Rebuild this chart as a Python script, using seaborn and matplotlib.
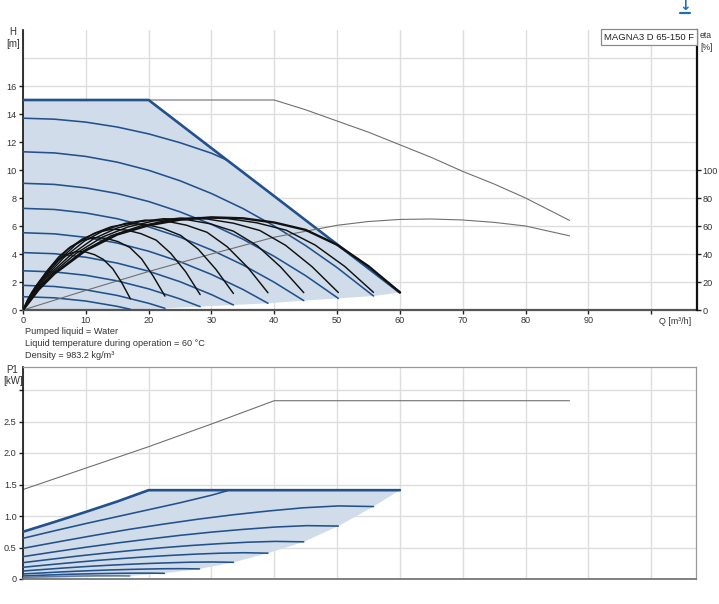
import matplotlib
matplotlib.use("Agg")
import matplotlib.pyplot as plt
import seaborn as sns
from matplotlib.patches import Rectangle
from matplotlib.lines import Line2D

sns.set_theme(style="white")
plt.rcParams["font.family"] = ["Liberation Sans", "DejaVu Sans"]

# ---------------- data ----------------
# QH: max curve (power limited) and constant speed curves
max_q = [0, 20, 30, 40, 50, 60]
max_h = [15, 15, 11.56, 8.13, 4.69, 1.25]

speed_q = [
    [0, 5, 10, 15, 20, 25, 30, 32.5],
    [0, 5, 10, 15, 20, 25, 30, 35, 40, 45, 50, 55.8],
    [0, 5, 10, 15, 20, 25, 30, 35, 40, 45, 50.2],
    [0, 5, 10, 15, 20, 25, 30, 35, 40, 44.7],
    [0, 5, 10, 15, 20, 25, 30, 35, 39],
    [0, 5, 10, 15, 20, 25, 30, 33.5],
    [0, 5, 10, 15, 20, 25, 28.2],
    [0, 5, 10, 15, 20, 22.6],
    [0, 5, 10, 15, 17.1],
]
speed_h = [
    [13.7, 13.63, 13.42, 13.07, 12.58, 11.95, 11.2, 10.7],
    [11.3, 11.22, 10.97, 10.56, 9.98, 9.23, 8.32, 7.25, 6.0, 4.6, 3.03, 1.0],
    [9.05, 8.97, 8.72, 8.32, 7.75, 7.01, 6.12, 5.06, 3.83, 2.45, 0.83],
    [7.26, 7.18, 6.93, 6.52, 5.94, 5.2, 4.29, 3.22, 1.98, 0.67],
    [5.52, 5.44, 5.19, 4.78, 4.2, 3.45, 2.54, 1.47, 0.48],
    [4.1, 4.02, 3.77, 3.35, 2.77, 2.02, 1.1, 0.36],
    [2.8, 2.72, 2.48, 2.08, 1.51, 0.79, 0.24],
    [1.76, 1.68, 1.44, 1.04, 0.48, 0.12],
    [0.95, 0.87, 0.64, 0.26, 0.05],
]

# lower limit of the operating range (QH)
low_q = [0, 17.1, 22.6, 28.2, 33.5, 39, 44.7, 50.2, 55.8, 60]
low_h = [0, 0.05, 0.12, 0.24, 0.36, 0.48, 0.67, 0.83, 1.0, 1.25]

# thin grey curves (larger pump reference)
ref_q = [0, 40, 45, 50, 55, 60, 65, 70, 75, 80, 87]
ref_h = [15, 15, 14.3, 13.5, 12.7, 11.8, 10.9, 9.9, 9.0, 8.0, 6.4]
ref_eta_q = [0, 10, 20, 30, 40, 50, 55, 60, 65, 70, 75, 80, 87]
ref_eta = [0, 14, 27.5, 40, 52, 60.5, 63.2, 64.7, 65, 64.3, 62.6, 60, 53]

# efficiency curves [%]
eta_q = [
    [0, 0.7, 1.4, 2.9, 4.3, 5.7, 7.1, 8.6, 10.0, 11.4, 12.8, 14.3, 15.7, 17.1],
    [0, 0.9, 1.9, 3.8, 5.7, 7.5, 9.4, 11.3, 13.2, 15.1, 17.0, 18.9, 20.7, 22.6],
    [0, 1.2, 2.4, 4.7, 7.1, 9.4, 11.8, 14.1, 16.5, 18.8, 21.2, 23.5, 25.9, 28.2],
    [0, 1.4, 2.8, 5.6, 8.4, 11.2, 14.0, 16.8, 19.5, 22.3, 25.1, 27.9, 30.7, 33.5],
    [0, 1.6, 3.3, 6.5, 9.8, 13.0, 16.3, 19.5, 22.8, 26.0, 29.3, 32.5, 35.8, 39.0],
    [0, 1.9, 3.7, 7.5, 11.2, 14.9, 18.6, 22.4, 26.1, 29.8, 33.5, 37.3, 41.0, 44.7],
    [0, 2.1, 4.2, 8.4, 12.6, 16.7, 20.9, 25.1, 29.3, 33.5, 37.7, 41.8, 46.0, 50.2],
    [0, 2.3, 4.7, 9.3, 14.0, 18.6, 23.3, 27.9, 32.6, 37.2, 41.9, 46.5, 51.2, 55.8],
    [0, 2.5, 5, 10, 15, 20, 25, 30, 35, 40, 45, 50, 55, 60],
]
eta_v = [
    [0, 6.7, 12.6, 21.8, 30.2, 36.1, 39.9, 41.8, 41.4, 39.5, 36.1, 29.4, 19.7, 8.0],
    [0, 8.7, 16.2, 27.8, 38.0, 45.0, 49.6, 51.7, 51.2, 48.9, 44.7, 36.4, 24.4, 9.9],
    [0, 10.2, 18.7, 31.9, 43.1, 50.6, 55.4, 57.7, 57.1, 54.5, 49.9, 40.6, 27.3, 11.0],
    [0, 11.3, 20.7, 35.0, 46.7, 54.5, 59.4, 61.7, 61.1, 58.3, 53.3, 43.4, 29.1, 11.8],
    [0, 12.3, 22.3, 37.4, 49.3, 57.1, 61.9, 64.2, 63.5, 60.6, 55.5, 45.2, 30.3, 12.3],
    [0, 13.0, 23.3, 39.0, 50.8, 58.4, 63.1, 65.2, 64.5, 61.6, 56.3, 45.9, 30.8, 12.4],
    [0, 13.5, 24.3, 40.3, 52.0, 59.3, 63.7, 65.7, 65.0, 62.0, 56.8, 46.2, 31.0, 12.5],
    [0, 14.1, 25.1, 41.4, 53.0, 59.9, 64.2, 66.0, 65.3, 62.3, 57.0, 46.4, 31.2, 12.6],
    [0, 14.6, 25.9, 42.6, 53.9, 60.5, 64.5, 66.2, 65.5, 62.5, 57.2, 46.6, 31.3, 12.6],
]

# P1 curves [kW]
pmax_q = [0, 5, 10, 15, 20, 60]
pmax_p = [0.75, 0.905, 1.065, 1.23, 1.41, 1.41]
pspeed_q = [
    [0, 5, 10, 15, 20, 25, 30, 32.5],
    [0, 5.6, 11.2, 16.7, 22.3, 27.9, 33.5, 39.1, 44.6, 50.2, 55.8],
    [0, 5.0, 10.0, 15.1, 20.1, 25.1, 30.1, 35.1, 40.2, 45.2, 50.2],
    [0, 4.5, 8.9, 13.4, 17.9, 22.4, 26.8, 31.3, 35.8, 40.2, 44.7],
    [0, 3.9, 7.8, 11.7, 15.6, 19.5, 23.4, 27.3, 31.2, 35.1, 39],
    [0, 3.4, 6.7, 10.1, 13.4, 16.8, 20.1, 23.5, 26.8, 30.2, 33.5],
    [0, 2.8, 5.6, 8.4, 11.2, 14.1, 16.9, 19.7, 22.5, 25.3, 28.1],
    [0, 2.3, 4.5, 6.8, 9, 11.3, 13.5, 15.8, 18, 20.3, 22.5],
    [0, 1.7, 3.4, 5.1, 6.8, 8.5, 10.2, 11.9, 13.6, 15.3, 17],
]
pspeed_p = [
    [0.646, 0.765, 0.88, 0.99, 1.1, 1.21, 1.33, 1.40],
    [0.487, 0.59, 0.69, 0.785, 0.87, 0.95, 1.02, 1.08, 1.13, 1.16, 1.15],
    [0.355, 0.431, 0.504, 0.573, 0.635, 0.694, 0.745, 0.788, 0.825, 0.847, 0.84],
    [0.26, 0.314, 0.366, 0.414, 0.458, 0.498, 0.532, 0.561, 0.584, 0.597, 0.59],
    [0.186, 0.224, 0.26, 0.294, 0.324, 0.351, 0.374, 0.394, 0.409, 0.417, 0.41],
    [0.127, 0.152, 0.176, 0.198, 0.217, 0.233, 0.247, 0.258, 0.267, 0.27, 0.265],
    [0.08, 0.095, 0.11, 0.123, 0.134, 0.144, 0.152, 0.158, 0.163, 0.164, 0.16],
    [0.048, 0.057, 0.065, 0.073, 0.079, 0.084, 0.088, 0.091, 0.093, 0.093, 0.09],
    [0.027, 0.032, 0.036, 0.04, 0.043, 0.046, 0.048, 0.05, 0.05, 0.05, 0.048],
]
plow_q = [0, 17, 22.5, 28.1, 33.5, 39, 44.7, 50.2, 55.8, 60]
plow_p = [0, 0.048, 0.09, 0.16, 0.265, 0.41, 0.59, 0.84, 1.15, 1.41]
pref_q = [0, 10, 20, 30, 40, 87]
pref_p = [1.42, 1.76, 2.1, 2.46, 2.83, 2.83]

h_ticks = [0, 2, 4, 6, 8, 10, 12, 14, 16]
eta_ticks = [0, 20, 40, 60, 80, 100]
q_ticks = [0, 10, 20, 30, 40, 50, 60, 70, 80, 90, 100]
p_ticks = [0, 0.5, 1.0, 1.5, 2.0, 2.5, 3.0]
p_labels = ["0", "0.5", "1.0", "1.5", "2.0", "2.5", ""]

texts = ["Pumped liquid = Water",
         "Liquid temperature during operation = 60 \u00b0C",
         "Density = 983.2 kg/m\u00b3"]

# ---------------- styling ----------------
W, H = 719, 604
FILL = "#d0dce9"
BLUE = "#22518b"
GRID = "#dedede"
TXT = "#333333"
FS = 6.6
XMAX = 107.3


def px(x, y):
    return x / W, 1 - y / H


def line(axis, x, y, color, lw, z=3):
    sns.lineplot(x=x, y=y, ax=axis, color=color, lw=lw, sort=False,
                 estimator=None, legend=False, zorder=z)


fig = plt.figure(figsize=(W / 100, H / 100), dpi=100)

# ---------------- QH chart ----------------
ax = fig.add_axes([23 / W, 1 - 310 / H, 674 / W, 280 / H])
ax.set_xlim(0, XMAX)
ax.set_ylim(0, 20)
ax.set_xticks(q_ticks)
ax.set_xticklabels([str(v) for v in q_ticks[:-1]] + [""])
ax.set_yticks(h_ticks)
ax.set_yticklabels([str(v) for v in h_ticks])
ax.grid(True, color=GRID, lw=1.0)
ax.axhline(18, color=GRID, lw=1.0, zorder=0)
ax.set_axisbelow(True)

poly_x = list(max_q) + low_q[::-1]
poly_y = list(max_h) + low_h[::-1]
ax.fill(poly_x, poly_y, color=FILL, lw=0, zorder=1)

line(ax, ref_q, ref_h, "#707070", 0.8, 2)
for q, h in zip(speed_q, speed_h):
    line(ax, q, h, BLUE, 1.15, 3)
line(ax, max_q, max_h, BLUE, 1.9, 4)

ax.spines["top"].set_visible(False)
ax.spines["right"].set_visible(False)
ax.spines["left"].set_color("#111111")
ax.spines["left"].set_linewidth(1.2)
ax.spines["bottom"].set_color("#555555")
ax.spines["bottom"].set_linewidth(1.6)
ax.tick_params(axis="both", which="major", direction="out", length=3,
               width=1, color="#222222", labelsize=FS, labelcolor=TXT, pad=1.6,
               left=True, bottom=True)
ax.set_xlabel("")
ax.set_ylabel("")

# efficiency axis
ax2 = ax.twinx()
ax2.set_ylim(0, 200)
ax2.set_yticks(eta_ticks)
ax2.set_yticklabels([str(v) for v in eta_ticks])
line(ax2, ref_eta_q, ref_eta, "#707070", 0.8, 2)
for i, (q, e) in enumerate(zip(eta_q, eta_v)):
    line(ax2, q, e, "#111111", 1.7 if i == len(eta_q) - 1 else 1.05, 3)
ax2.set_ylabel("")
for s in ["top", "left", "bottom"]:
    ax2.spines[s].set_visible(False)
ax2.spines["right"].set_color("#111111")
ax2.spines["right"].set_linewidth(1.6)
ax2.tick_params(axis="y", direction="out", length=3, width=1,
                color="#222222", labelsize=FS, labelcolor=TXT, pad=1,
                right=True)
ax2.grid(False)

# labels
fig.text(*px(13, 32), "H", ha="center", va="center", fontsize=FS + 0.4, color=TXT)
fig.text(*px(13, 44), "[m]", ha="center", va="center", fontsize=FS + 0.4, color=TXT)
fig.text(*px(706, 35), "eta", ha="center", va="center", fontsize=FS - 0.4, color=TXT)
fig.text(*px(707, 47), "[%]", ha="center", va="center", fontsize=FS - 0.4, color=TXT)
fig.text(*px(659, 321), "Q [m\u00b3/h]", ha="left", va="center", fontsize=FS - 0.2, color=TXT)

# legend box
x0, y0 = px(601, 45)
fig.add_artist(Rectangle((x0, y0), 96 / W, 16 / H, transform=fig.transFigure,
                         facecolor="white", edgecolor="#8a8a8a", lw=0.9, zorder=5))
fig.text(*px(603.5, 37.5), "MAGNA3 D 65-150 F", ha="left", va="center",
         fontsize=6.8, color="#222222", zorder=6)

# info text
for i, t in enumerate(texts):
    fig.text(*px(25, 332 + 11.5 * i), t, ha="left", va="center", fontsize=6.6,
             color=TXT)

# ---------------- P1 chart ----------------
bx = fig.add_axes([23 / W, 1 - 579 / H, 673 / W, 212 / H])
bx.set_xlim(0, XMAX * 673 / 674)
bx.set_ylim(0, 212 / 63)
bx.set_xticks(q_ticks)
bx.set_xticklabels([])
bx.set_yticks(p_ticks)
bx.set_yticklabels(p_labels)
bx.grid(True, color=GRID, lw=1.0)
bx.set_axisbelow(True)

ppoly_x = list(pmax_q) + plow_q[::-1]
ppoly_y = list(pmax_p) + plow_p[::-1]
bx.fill(ppoly_x, ppoly_y, color=FILL, lw=0, zorder=1)
line(bx, pref_q, pref_p, "#707070", 0.8, 2)
for i, (q, p) in enumerate(zip(pspeed_q, pspeed_p)):
    line(bx, q, p, BLUE if i < len(pspeed_q) - 1 else "#5d7ba0", 1.15, 3)
line(bx, pmax_q, pmax_p, BLUE, 1.9, 4)
bx.set_xlabel("")
bx.set_ylabel("")
bx.spines["left"].set_color("#111111")
bx.spines["left"].set_linewidth(1.2)
bx.spines["bottom"].set_color("#777777")
bx.spines["bottom"].set_linewidth(1.3)
for s in ["top", "right"]:
    bx.spines[s].set_color("#9a9a9a")
    bx.spines[s].set_linewidth(0.9)
bx.tick_params(axis="y", direction="out", length=3, width=1, color="#222222",
               labelsize=FS, labelcolor=TXT, pad=1.6, left=True)
bx.tick_params(axis="x", length=0)

fig.text(*px(12, 370), "P1", ha="center", va="center", fontsize=FS + 0.4, color=TXT)
fig.text(*px(13, 381), "[kW]", ha="center", va="center", fontsize=FS + 0.4, color=TXT)

# download icon
fig.text(*px(685, 6), "\u2193", ha="center", va="center", fontsize=10,
         fontweight="bold", color="#1f6fb8", family="DejaVu Sans")
fig.add_artist(Line2D([680 / W, 690 / W], [1 - 13 / H, 1 - 13 / H],
                      transform=fig.transFigure, color="#1f6fb8", lw=1.6))

fig.savefig("out.png", dpi=100, facecolor="white")
